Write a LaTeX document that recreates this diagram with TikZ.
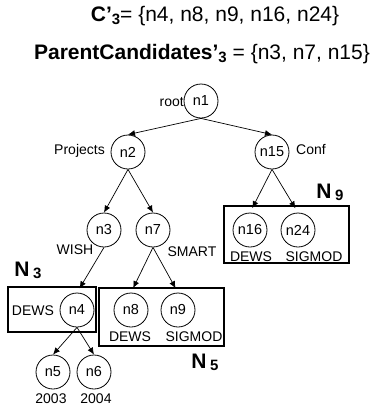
\documentclass[tikz,border=0pt]{standalone}
\usepackage{fontspec}
\setmainfont{Liberation Sans}
\usetikzlibrary{arrows.meta}

\begin{document}
\begin{tikzpicture}[x=1pt,y=-1pt,
  tnode/.style={circle,draw,line width=0.8pt,minimum size=34pt,inner sep=0pt,
                font=\fontsize{14.5}{16}\selectfont},
  lbl/.style={font=\fontsize{14}{16}\selectfont,inner sep=0pt},
  grp/.style={draw,line width=2pt},
  grplbl/.style={font=\fontsize{21}{22}\selectfont\bfseries,inner sep=0pt},
  title/.style={font=\fontsize{21}{24}\selectfont,inner sep=0pt},
  arr/.style={-{Latex[length=7pt,width=6pt]},line width=0.7pt},
  barr/.style={arr,shorten >=5pt}]
\useasboundingbox (0,0) rectangle (381,410);

% headline formulas
\node[title] (t1) at (215,16)
  {\textbf{C’}\raisebox{-3pt}{\fontsize{15}{15}\selectfont\bfseries 3}= \{n4, n8, n9, n16, n24\}};
\node[title] (t2) at (202,54)
  {\textbf{ParentCandidates’}\raisebox{-3pt}{\fontsize{15}{15}\selectfont\bfseries 3} = \{n3, n7, n15\}};

% group frames
\draw[grp] (8,287) rectangle (96,332);
\draw[grp] (99,288) rectangle (224,346);
\draw[grp] (224,206) rectangle (349,263);

% tree nodes
\node[tnode] (n1)  at (201,101) {n1};
\node[tnode] (n2)  at (128,152) {n2};
\node[tnode] (n15) at (272,152) {n15};
\node[tnode] (n3)  at (104,230) {n3};
\node[tnode] (n7)  at (153,230) {n7};
\node[tnode] (n16) at (250,230) {n16};
\node[tnode] (n24) at (298,230) {n24};
\node[tnode] (n4)  at (77,310)  {n4};
\node[tnode] (n8)  at (131,310) {n8};
\node[tnode] (n9)  at (178,310) {n9};
\node[tnode] (n5)  at (53,372)  {n5};
\node[tnode] (n6)  at (94,372)  {n6};

% edges
\draw[arr]  (n1.south)  -- (n2.north);
\draw[arr]  (n1.south)  -- (n15.north);
\draw[arr]  (n2.south)  -- (n3.north);
\draw[arr]  (n2.south)  -- (n7.north);
\draw[barr] (n15.south) -- (n16.north);
\draw[barr] (n15.south) -- (n24.north);
\draw[barr] (n3.south)  -- (n4.north);
\draw[barr] (n7.south)  -- (n8.north);
\draw[barr] (n7.south)  -- (n9.north);
\draw[arr]  (n4.south)  -- (n5.north);
\draw[arr]  (n4.south)  -- (n6.north);

% node labels
\node[lbl,anchor=east] (lroot) at (184,102) {root};
\node[lbl,anchor=east] (lproj) at (105,151) {Projects};
\node[lbl,anchor=west] (lconf) at (296,149) {Conf};
\node[lbl] (lwish)  at (75,250)  {WISH};
\node[lbl] (lsmart) at (192,252) {SMART};
\node[lbl] (ld4)    at (33,311)  {DEWS};
\node[lbl] (ld8)    at (130,337) {DEWS};
\node[lbl] (ls9)    at (194,337) {SIGMOD};
\node[lbl] (ld16)   at (251,257) {DEWS};
\node[lbl] (ls24)   at (314,257) {SIGMOD};
\node[lbl] (l5)     at (51,399)  {2003};
\node[lbl] (l6)     at (96,399)  {2004};

% group names
\node[grplbl] (g3) at (28,270)  {N\,\raisebox{-2pt}{\fontsize{15}{15}\selectfont 3}};
\node[grplbl] (g5) at (205,362) {N\,\raisebox{-2pt}{\fontsize{15}{15}\selectfont 5}};
\node[grplbl] (g9) at (330,192) {N\,\raisebox{-2pt}{\fontsize{15}{15}\selectfont 9}};
\end{tikzpicture}
\end{document}
